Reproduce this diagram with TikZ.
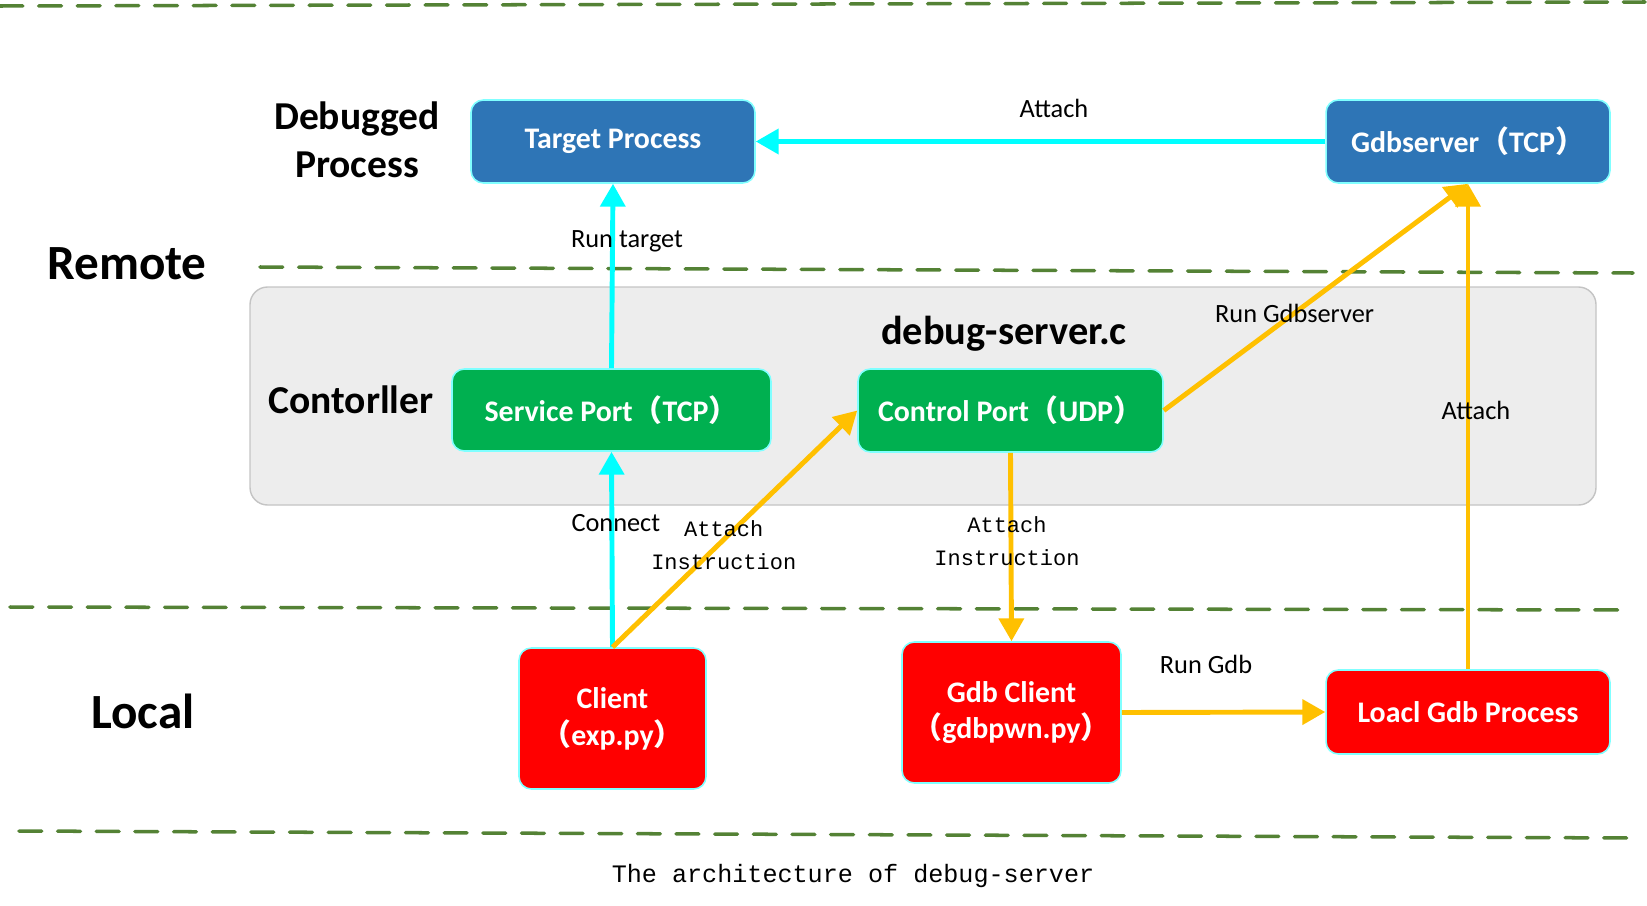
\documentclass[tikz,border=0pt]{standalone}
\usepackage{fontspec}
\setmainfont{Carlito}
\newfontfamily\cjk{Noto Sans CJK SC}
\newfontfamily\simfont{Liberation Mono}
\usepackage{tikz}
\usetikzlibrary{arrows.meta}

\definecolor{procblue}{HTML}{2E75B6}
\definecolor{portgreen}{HTML}{00B050}
\definecolor{localred}{HTML}{FF0000}
\definecolor{zonegreen}{HTML}{548235}
\definecolor{runorange}{HTML}{FFC000}
\definecolor{runcyan}{HTML}{00FFFF}
\definecolor{boxrim}{HTML}{80FFFF}
\definecolor{ctrlgray}{HTML}{EDEDED}
\definecolor{ctrlrim}{HTML}{C4C4C4}

\newcommand{\lpar}{{\cjk （}}
\newcommand{\rpar}{{\cjk ）}}

\begin{document}
\begin{tikzpicture}[->,>={Triangle[length=13pt,width=14pt]},x=0.02cm,y=-0.02cm,
                    line width=2.8pt]
\tikzstyle{box}=[-,rounded corners=7pt,draw=boxrim,line width=0.9pt,text=white,align=center,
                 inner sep=0pt,font=\fontsize{17pt}{21pt}\selectfont\bfseries]
\tikzstyle{zone}=[font=\fontsize{28pt}{34pt}\selectfont\bfseries]
\tikzstyle{part}=[align=center,font=\fontsize{22.5pt}{27.5pt}\selectfont\bfseries]
\tikzstyle{lbl}=[text=black,inner sep=1pt,font=\fontsize{15pt}{18pt}\selectfont]
\tikzstyle{instr}=[text=black,align=center,inner sep=1pt,font=\simfont\fontsize{12.5pt}{18.8pt}\selectfont]
\tikzstyle{zoneline}=[-,draw=zonegreen,line width=2pt,line cap=round,dash pattern=on 13pt off 9pt]
\tikzset{cyanline/.style={draw=runcyan}, orangeline/.style={draw=runorange}}

        \useasboundingbox (0,0) rectangle (1647,906);

        % zone borders
        \draw[zoneline] (0,6) -- (1645,2);
        \draw[zoneline] (260,267) -- (1633,273);
        \draw[zoneline] (10,607) -- (1633,610);
        \draw[zoneline] (19,831) -- (1633,838);

        \draw[-,fill=ctrlgray,draw=ctrlrim,line width=0.8pt,rounded corners=10pt] (250,287) rectangle (1596,505);

        \node[zone]     (remote) at (127,264)  {Remote};
        \node[zone]     (local)  at (143,711)  {Local};
        \node[part]     (dbg)    at (357,140)  {Debugged\\Process};
        \node[part]     (ctl)    at (351,400)  {Contorller};
        \node[part,font=\fontsize{23pt}{27pt}\selectfont\bfseries] (srv) at (1004,334) {debug-server.c};

        \node[box,fill=procblue,minimum width=5.68cm,minimum height=1.66cm]   (tp) at (613,141.5)  {Target Process};
        \node[box,fill=procblue,minimum width=5.68cm,minimum height=1.66cm]   (gs) at (1468,141.5) {Gdbserver\lpar TCP\rpar};
        \node[box,fill=portgreen,minimum width=6.38cm,minimum height=1.64cm]  (sp) at (611.5,410)  {Service Port\lpar TCP\rpar};
        \node[box,fill=portgreen,minimum width=6.1cm,minimum height=1.66cm]   (cp) at (1010.5,410.5) {Control Port\lpar UDP\rpar};
        \node[box,fill=localred,minimum width=3.74cm,minimum height=2.82cm]   (cl) at (612.5,718.5) {Client\\\lpar exp.py\rpar};
        \node[box,fill=localred,minimum width=4.38cm,minimum height=2.82cm]   (gc) at (1011.5,712.5) {Gdb Client\\\lpar gdbpwn.py\rpar};
        \node[box,fill=localred,minimum width=5.68cm,minimum height=1.68cm]   (lg) at (1468,712)   {Loacl Gdb Process};

        \path
        (gs)       edge[cyanline] node[lbl,pos=0.5,xshift=0.27cm,yshift=0.67cm] {Attach}     (tp)
        (sp.north) edge[cyanline] node[lbl,pos=0.69,xshift=0.29cm]              {Run target} (tp.south)
        (cl.north) edge[cyanline] node[lbl,pos=0.635,xshift=0.08cm]             {Connect}    (sp.south)
        ; %end path

        \path
        (cl.north) edge[orangeline] node[instr,pos=0.43,xshift=0.12cm]  {Attach\\Instruction} (cp.west)
        (cp.south) edge[orangeline] node[instr,pos=0.47,xshift=-0.08cm] {Attach\\Instruction} (gc.north)
        (cp.east)  edge[orangeline] node[lbl,pos=0.43]                  {Run Gdbserver}       (gs.south)
        (lg.north) edge[orangeline] node[lbl,pos=0.534,xshift=0.16cm]   {Attach}              (gs.south)
        (gc.east)  edge[orangeline] node[lbl,pos=0.5,xshift=-0.35cm,yshift=0.96cm] {Run Gdb}  (lg.west)
        ; %end path

        \node[instr,font=\simfont\fontsize{14.3pt}{17pt}\selectfont] (cap) at (853,876) {The architecture of debug-server};

\end{tikzpicture}
\end{document}
